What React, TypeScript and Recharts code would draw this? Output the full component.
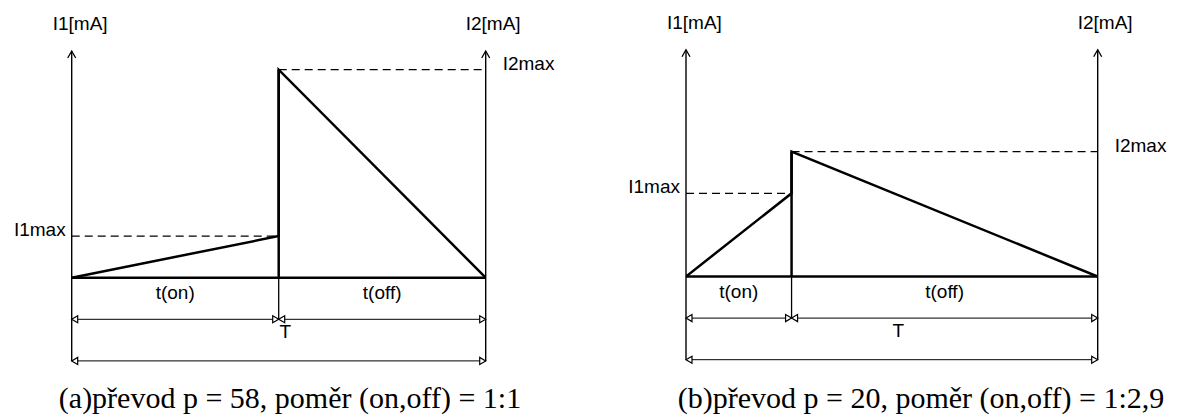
import { ComposedChart, Line, XAxis, YAxis, ReferenceLine, ReferenceDot } from "recharts";

// one entry per panel: (a), (b)
const PANEL_TAGS = ["a", "b"];
const T_ON = [1, 1];
const T_OFF = [1, 2.9];
const I1_MAX = [1, 2];
const I2_MAX = [5, 3];
const RATIO_P = [58, 20];
const ON_OFF = ["1:1", "1:2,9"];

const Y_MIN = -2.5;
const Y_MAX = 5.5;
const AXIS_TOP = 5.45;
const DIM_1 = -1;
const DIM_2 = -2;

const SANS = '"Liberation Sans", Arial, sans-serif';
const SERIF = '"Liberation Serif", "Times New Roman", serif';

const LAYOUT = [
  { left: 0, margin: { top: 48.9, right: 103.3, bottom: 35.3, left: 71.7 }, captionX: 290 },
  { left: 589, margin: { top: 47.7, right: 80.3, bottom: 36.5, left: 97 }, captionX: 332 },
];

const axisWithArrow = (p: any) => {
  const { x1, y1, x2, y2 } = p;
  const top = Math.min(y1, y2);
  return (
    <g>
      <line x1={x1} y1={y1} x2={x2} y2={y2} stroke="#000" strokeWidth={1.4} />
      <polyline
        points={`${x1 - 4},${top + 7} ${x1},${top} ${x1 + 4},${top + 7}`}
        fill="none"
        stroke="#000"
        strokeWidth={1.3}
      />
    </g>
  );
};

const dimLine = (p: any) => {
  const { x1, y1, x2 } = p;
  const l = Math.min(x1, x2);
  const r = Math.max(x1, x2);
  return (
    <g>
      <line x1={l} y1={y1} x2={r} y2={y1} stroke="#000" strokeWidth={1} />
      <path d={`M${l},${y1} L${l + 6},${y1 - 3.5} L${l + 6},${y1 + 3.5} Z`} fill="#fff" stroke="#000" strokeWidth={1.2} />
      <path d={`M${r},${y1} L${r - 6},${y1 - 3.5} L${r - 6},${y1 + 3.5} Z`} fill="#fff" stroke="#000" strokeWidth={1.2} />
    </g>
  );
};

const textAt =
  (text: string, dx: number, dy: number, anchor: "start" | "middle" | "end" = "middle") =>
  (p: any) => (
    <text x={p.cx + dx} y={p.cy + dy} textAnchor={anchor} fontFamily={SANS} fontSize={19} fill="#000">
      {text}
    </text>
  );

function Panel({ k }: { k: number }) {
  const tOn = T_ON[k];
  const tOff = T_OFF[k];
  const T = tOn + tOff;
  const i1 = I1_MAX[k];
  const i2 = I2_MAX[k];
  const wave = [
    { t: 0, i: 0 },
    { t: tOn, i: i1 },
    { t: tOn, i: i2 },
    { t: T, i: 0 },
  ];
  const box = LAYOUT[k];
  const caption = `(${PANEL_TAGS[k]})převod p = ${RATIO_P[k]}, poměr (on,off) = ${ON_OFF[k]}`;

  return (
    <div style={{ position: "absolute", left: box.left, top: 0, width: 589, height: 417 }}>
      <ComposedChart width={589} height={417} data={wave} margin={box.margin}>
        <XAxis type="number" dataKey="t" domain={[0, T]} hide allowDataOverflow />
        <YAxis type="number" domain={[Y_MIN, Y_MAX]} hide allowDataOverflow />

        {/* dashed max levels */}
        <ReferenceLine
          segment={[{ x: 0, y: i1 }, { x: tOn, y: i1 }]}
          stroke="#000"
          strokeWidth={1.2}
          strokeDasharray="8 5"
          ifOverflow="visible"
        />
        <ReferenceLine
          segment={[{ x: tOn, y: i2 }, { x: T, y: i2 }]}
          stroke="#000"
          strokeWidth={1.2}
          strokeDasharray="8 5"
          ifOverflow="visible"
        />

        {/* I1 and I2 axes */}
        <ReferenceLine segment={[{ x: 0, y: DIM_2 }, { x: 0, y: AXIS_TOP }]} shape={axisWithArrow} ifOverflow="visible" />
        <ReferenceLine segment={[{ x: T, y: DIM_2 }, { x: T, y: AXIS_TOP }]} shape={axisWithArrow} ifOverflow="visible" />

        {/* switching instant */}
        <ReferenceLine segment={[{ x: tOn, y: DIM_1 }, { x: tOn, y: 0 }]} stroke="#000" strokeWidth={1.3} ifOverflow="visible" />
        <ReferenceLine segment={[{ x: tOn, y: 0 }, { x: tOn, y: i2 }]} stroke="#000" strokeWidth={2.5} ifOverflow="visible" />

        {/* time base */}
        <ReferenceLine y={0} stroke="#000" strokeWidth={2.5} ifOverflow="visible" />

        {/* dimension lines */}
        <ReferenceLine segment={[{ x: 0, y: DIM_1 }, { x: tOn, y: DIM_1 }]} shape={dimLine} ifOverflow="visible" />
        <ReferenceLine segment={[{ x: tOn, y: DIM_1 }, { x: T, y: DIM_1 }]} shape={dimLine} ifOverflow="visible" />
        <ReferenceLine segment={[{ x: 0, y: DIM_2 }, { x: T, y: DIM_2 }]} shape={dimLine} ifOverflow="visible" />

        <Line
          type="linear"
          dataKey="i"
          stroke="#000"
          strokeWidth={2.5}
          strokeLinejoin="miter"
          dot={false}
          activeDot={false}
          isAnimationActive={false}
        />

        <ReferenceDot x={0} y={AXIS_TOP} r={0} ifOverflow="visible" shape={textAt("I1[mA]", -19, -21, "start")} />
        <ReferenceDot x={T} y={AXIS_TOP} r={0} ifOverflow="visible" shape={textAt("I2[mA]", -20, -21, "start")} />
        <ReferenceDot x={0} y={i1} r={0} ifOverflow="visible" shape={textAt("I1max", -6, 0, "end")} />
        <ReferenceDot x={T} y={i2} r={0} ifOverflow="visible" shape={textAt("I2max", 17, 0, "start")} />
        <ReferenceDot x={tOn / 2} y={0} r={0} ifOverflow="visible" shape={textAt("t(on)", 0, 21)} />
        <ReferenceDot x={tOn + tOff / 2} y={0} r={0} ifOverflow="visible" shape={textAt("t(off)", 0, 21)} />
        <ReferenceDot x={T / 2} y={DIM_1} r={0} ifOverflow="visible" shape={textAt("T", 6.5, 19)} />
      </ComposedChart>
      <div
        style={{
          position: "absolute",
          left: box.captionX - 300,
          width: 600,
          top: 381,
          height: 34,
          lineHeight: "34px",
          textAlign: "center",
          fontFamily: SERIF,
          fontSize: 30,
          color: "#000",
          whiteSpace: "nowrap",
        }}
      >
        {caption}
      </div>
    </div>
  );
}

export default function App() {
  return (
    <div style={{ position: "absolute", left: 0, top: 0, width: 1178, height: 417, background: "#fff", overflow: "hidden" }}>
      <Panel k={0} />
      <Panel k={1} />
    </div>
  );
}
